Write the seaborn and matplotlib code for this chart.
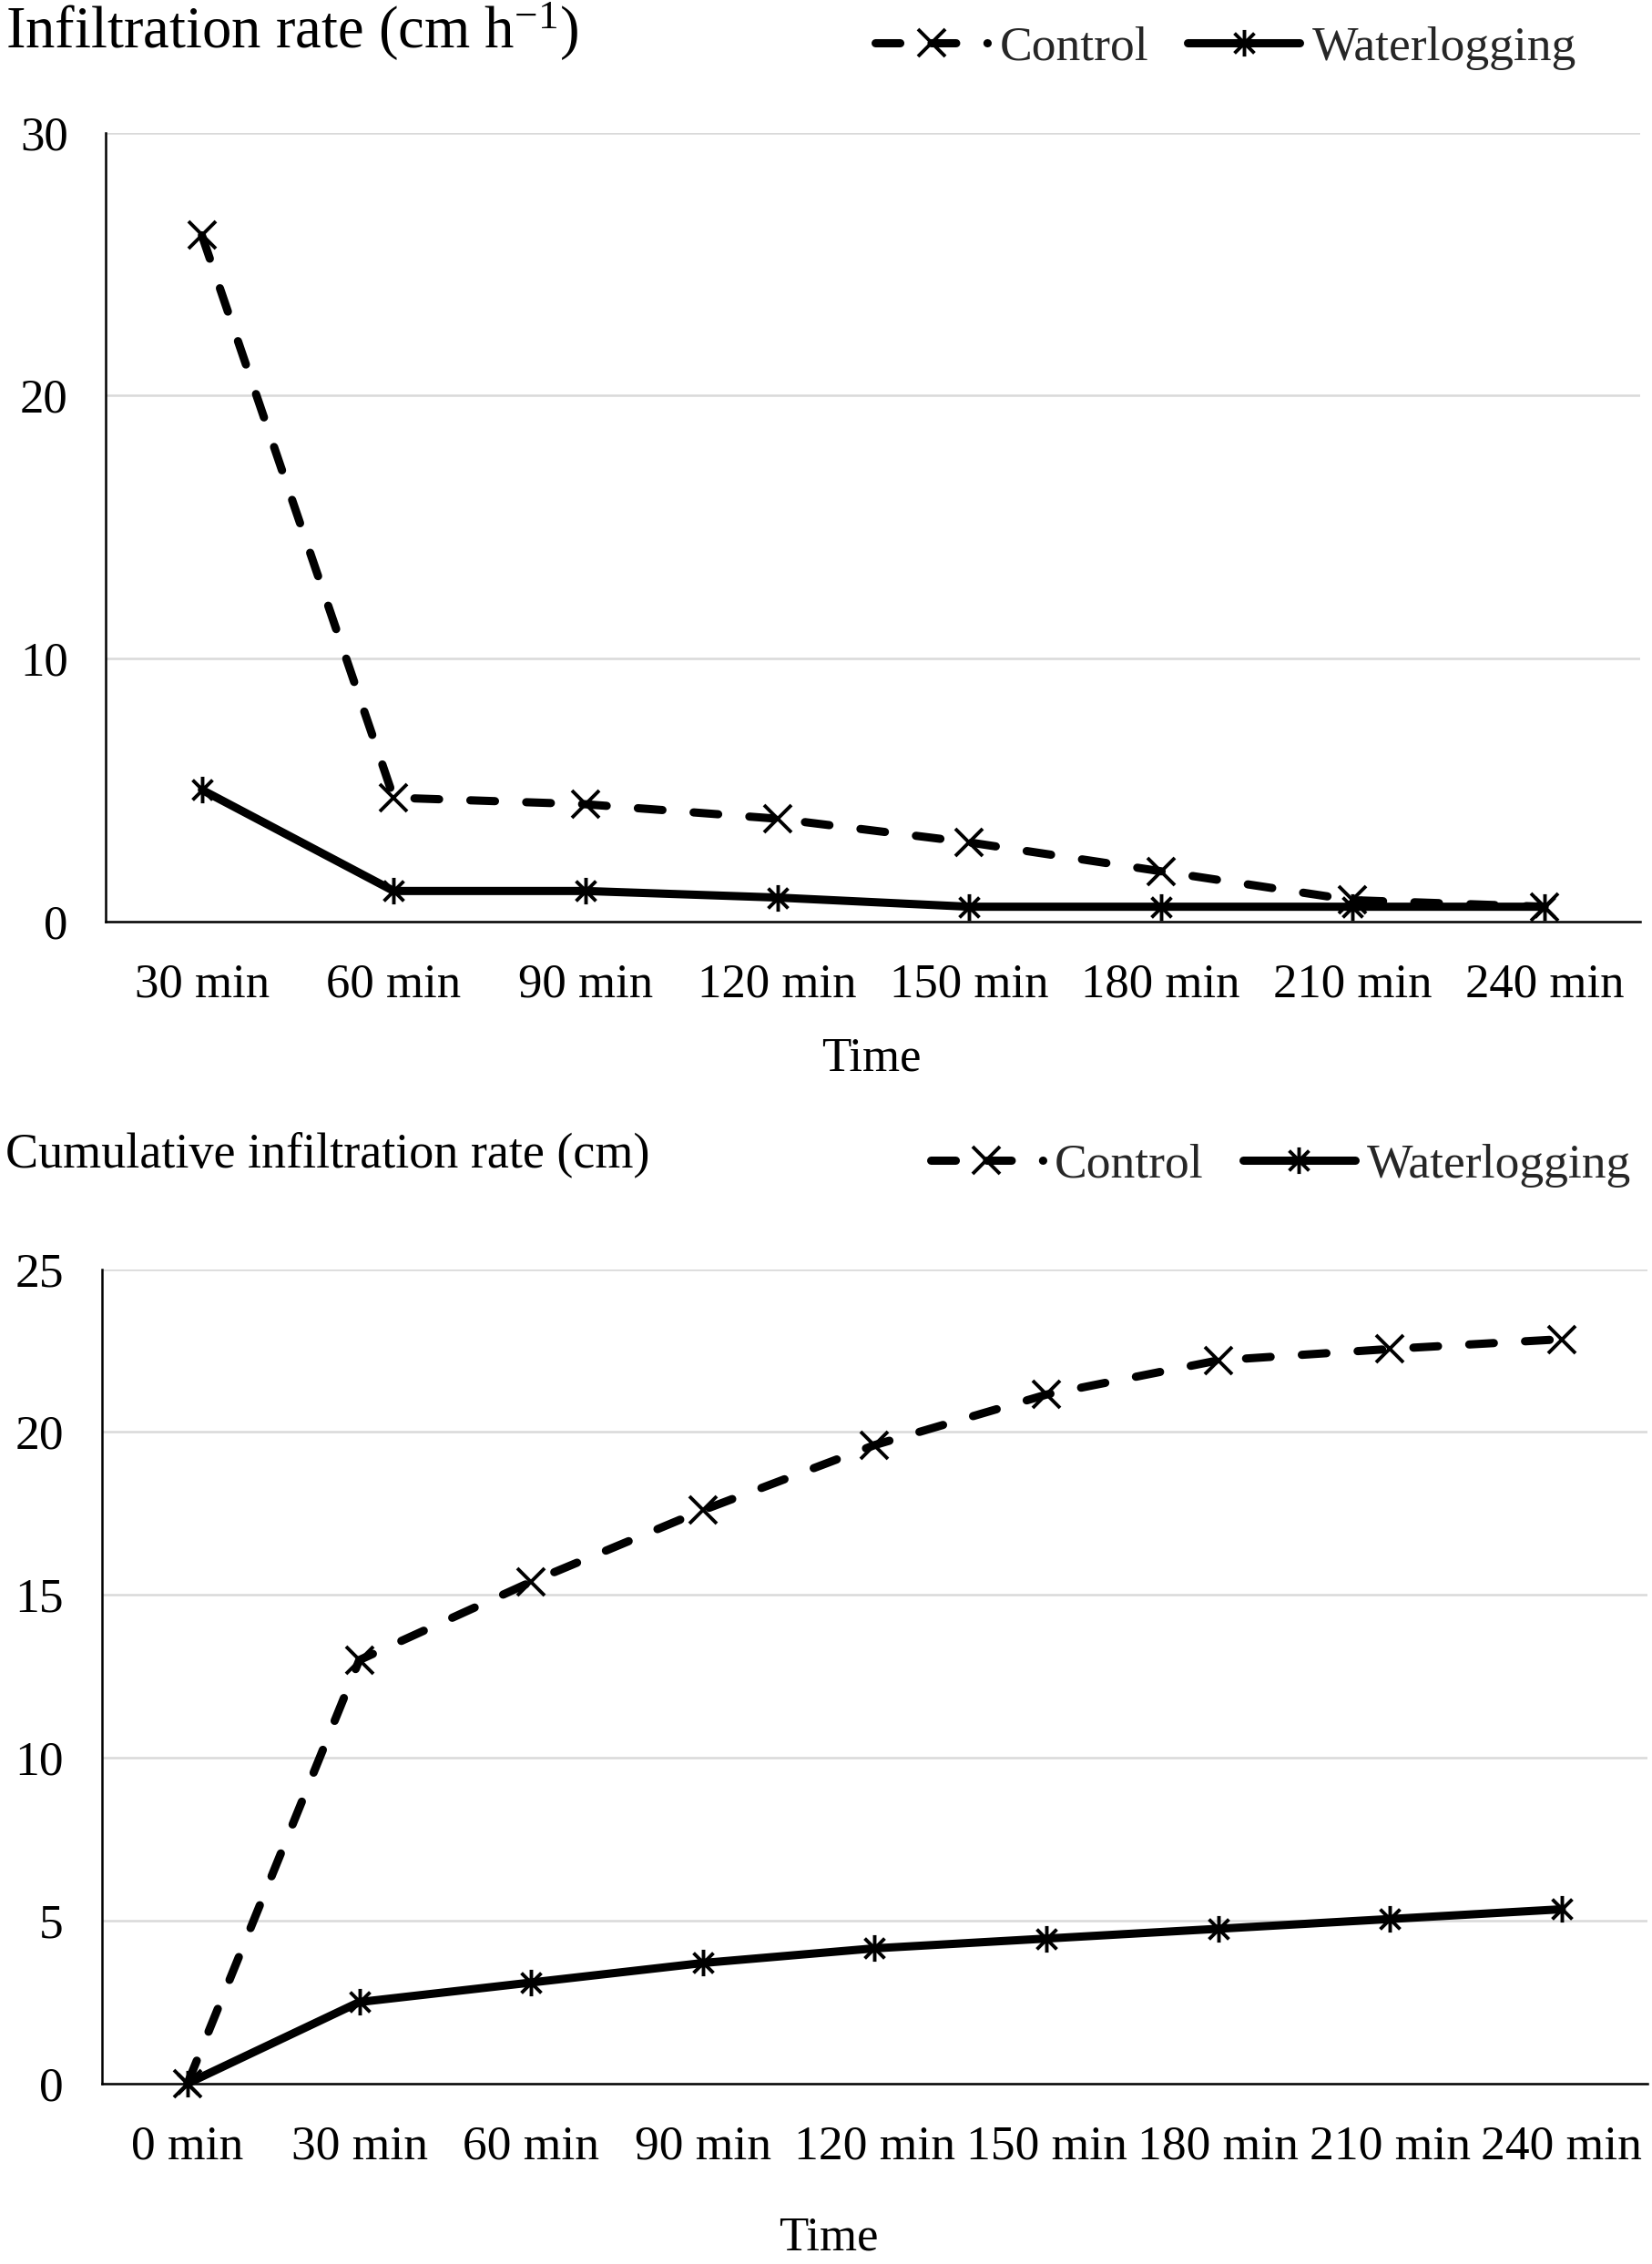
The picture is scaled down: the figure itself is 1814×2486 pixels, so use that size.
import numpy as np
import pandas as pd
import seaborn as sns
import matplotlib.pyplot as plt
from matplotlib.path import Path

# Infiltration rate (top panel)
rate_times = ['30 min', '60 min', '90 min', '120 min', '150 min', '180 min', '210 min', '240 min']
rate_control = [26.1, 4.7, 4.45, 3.9, 3.0, 1.9, 0.8, 0.55]
rate_water = [5.0, 1.15, 1.15, 0.9, 0.55, 0.55, 0.55, 0.55]

# Cumulative infiltration (bottom panel)
cum_times = ['0 min', '30 min', '60 min', '90 min', '120 min', '150 min', '180 min', '210 min', '240 min']
cum_control = [0, 13.0, 15.4, 17.6, 19.6, 21.15, 22.2, 22.55, 22.85]
cum_water = [0, 2.5, 3.1, 3.7, 4.15, 4.45, 4.75, 5.05, 5.35]

sns.set_theme(style='white')
plt.rcParams['font.family'] = ['Liberation Serif', 'DejaVu Serif']
plt.rcParams['mathtext.fontset'] = 'custom'
plt.rcParams['mathtext.rm'] = 'Liberation Serif'
plt.rcParams['mathtext.it'] = 'Liberation Serif:italic'

# Excel-like asterisk marker: X with a vertical bar
asterisk = Path([(0, -1), (0, 1), (-0.75, -0.75), (0.75, 0.75), (-0.75, 0.75), (0.75, -0.75)],
                [Path.MOVETO, Path.LINETO] * 3)

fig = plt.figure(figsize=(18.14, 24.86), dpi=100)
W, H = 1138, 1568  # reference display size used for placement


def draw_panel(ax, times, control, water, ymax, step, tick_fs):
    df_c = pd.DataFrame({'Time': times, 'Value': control})
    df_w = pd.DataFrame({'Time': times, 'Value': water})
    sns.lineplot(data=df_c, x='Time', y='Value', ax=ax, color='black', sort=False,
                 linewidth=6.5, linestyle=(0, (3.0, 3.8)), dash_capstyle='round',
                 marker='x', markersize=21, markeredgewidth=2.8, markeredgecolor='black',
                 label='Control', clip_on=False, zorder=3)
    sns.lineplot(data=df_w, x='Time', y='Value', ax=ax, color='black', sort=False,
                 linewidth=6.5, marker=asterisk, markersize=21, markeredgewidth=2.8,
                 markeredgecolor='black', markerfacecolor='none',
                 label='Waterlogging', clip_on=False, zorder=4)
    ax.set_xlim(-0.5, len(times) - 0.5)
    ax.set_ylim(0, ymax)
    ax.set_yticks(np.arange(0, ymax + 0.1, step))
    ax.yaxis.grid(True, color='#d9d9d9', linewidth=1.8)
    ax.xaxis.grid(False)
    ax.set_axisbelow(True)
    for s in ['top', 'right']:
        ax.spines[s].set_visible(False)
    for s in ['left', 'bottom']:
        ax.spines[s].set_color('black')
        ax.spines[s].set_linewidth(1.8)
    ax.tick_params(axis='both', length=0, labelsize=tick_fs, colors='black')
    ax.tick_params(axis='y', pad=30)
    ax.tick_params(axis='x', pad=33)
    ax.set_xlabel('')
    ax.set_ylabel('')
    handles, labels = ax.get_legend_handles_labels()
    ax.get_legend().remove()
    return handles, labels


# Top panel
ax1 = fig.add_axes([73 / W, 1 - 638 / H, (1130 - 73) / W, (638 - 92) / H])
h1, l1 = draw_panel(ax1, rate_times, rate_control, rate_water, 30, 10, 38)
fig.text(4 / W, 1 - 22 / H, 'Infiltration rate (cm h$^{\\mathregular{-1}}$)', fontsize=46.5,
         va='center', ha='left', color='black')
fig.text(600 / W, 1 - 733 / H, 'Time', fontsize=38, ha='center', va='center', color='black')
fig.legend(h1, l1, loc='center left', bbox_to_anchor=(603 / W, 1 - 33 / H), ncol=2,
           frameon=False, fontsize=38.5, handlelength=2.3, handletextpad=0.25,
           columnspacing=0.8, borderpad=0, borderaxespad=0)

# Bottom panel
ax2 = fig.add_axes([70 / W, 1 - 1443 / H, (1135 - 70) / W, (1443 - 879) / H])
h2, l2 = draw_panel(ax2, cum_times, cum_control, cum_water, 25, 5, 38.5)
fig.text(4 / W, 1 - 800 / H, 'Cumulative infiltration rate (cm)', fontsize=39,
         va='center', ha='left', color='black')
fig.text(571 / W, 1 - 1550 / H, 'Time', fontsize=38, ha='center', va='center', color='black')
fig.legend(h2, l2, loc='center left', bbox_to_anchor=(641 / W, 1 - 807 / H), ncol=2,
           frameon=False, fontsize=38.5, handlelength=2.3, handletextpad=0.25,
           columnspacing=0.8, borderpad=0, borderaxespad=0)

fig.savefig('out.png', dpi=100, facecolor='white')
